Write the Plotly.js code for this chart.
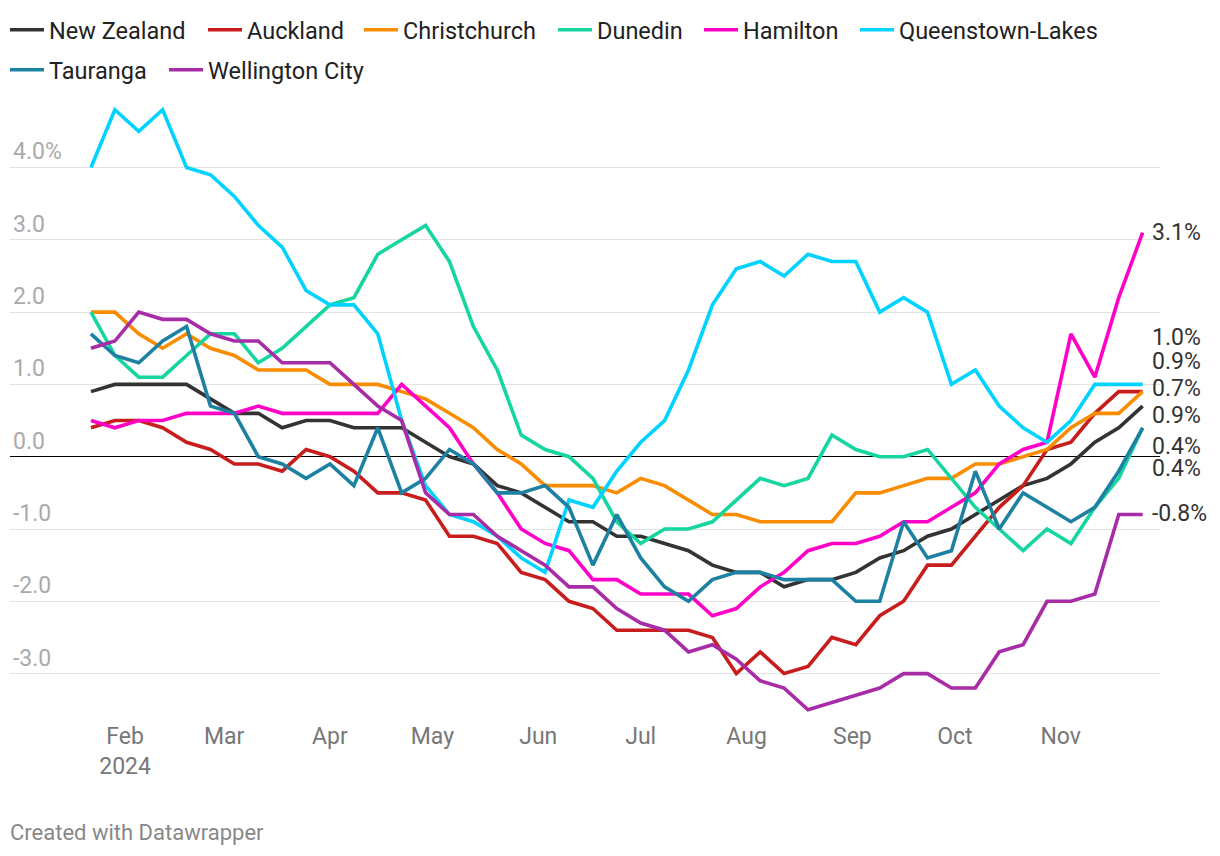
<!DOCTYPE html>
<html><head><meta charset="utf-8">
<script src="https://cdn.plot.ly/plotly-3.0.1.min.js"></script>
<style>html,body{margin:0;padding:0;background:#fff;} #chart{width:1220px;height:856px;}</style>
</head><body><div id="chart"></div>
<script>
const dates = ['2024-01-22','2024-01-29','2024-02-05','2024-02-12','2024-02-19','2024-02-26',
 '2024-03-04','2024-03-11','2024-03-18','2024-03-25','2024-04-01','2024-04-08','2024-04-15',
 '2024-04-22','2024-04-29','2024-05-06','2024-05-13','2024-05-20','2024-05-27','2024-06-03',
 '2024-06-10','2024-06-17','2024-06-24','2024-07-01','2024-07-08','2024-07-15','2024-07-22',
 '2024-07-29','2024-08-05','2024-08-12','2024-08-19','2024-08-26','2024-09-02','2024-09-09',
 '2024-09-16','2024-09-23','2024-09-30','2024-10-07','2024-10-14','2024-10-21','2024-10-28',
 '2024-11-04','2024-11-11','2024-11-18','2024-11-25'];

const newZealand = [0.9,1.0,1.0,1.0,1.0,0.8,0.6,0.6,0.4,0.5,0.5,0.4,0.4,0.4,0.2,0.0,-0.1,-0.4,-0.5,-0.7,-0.9,-0.9,-1.1,-1.1,-1.2,-1.3,-1.5,-1.6,-1.6,-1.8,-1.7,-1.7,-1.6,-1.4,-1.3,-1.1,-1.0,-0.8,-0.6,-0.4,-0.3,-0.1,0.2,0.4,0.7];
const auckland = [0.4,0.5,0.5,0.4,0.2,0.1,-0.1,-0.1,-0.2,0.1,0.0,-0.2,-0.5,-0.5,-0.6,-1.1,-1.1,-1.2,-1.6,-1.7,-2.0,-2.1,-2.4,-2.4,-2.4,-2.4,-2.5,-3.0,-2.7,-3.0,-2.9,-2.5,-2.6,-2.2,-2.0,-1.5,-1.5,-1.1,-0.7,-0.4,0.1,0.2,0.6,0.9,0.9];
const christchurch = [2.0,2.0,1.7,1.5,1.7,1.5,1.4,1.2,1.2,1.2,1.0,1.0,1.0,0.9,0.8,0.6,0.4,0.1,-0.1,-0.4,-0.4,-0.4,-0.5,-0.3,-0.4,-0.6,-0.8,-0.8,-0.9,-0.9,-0.9,-0.9,-0.5,-0.5,-0.4,-0.3,-0.3,-0.1,-0.1,0.0,0.1,0.4,0.6,0.6,0.9];
const dunedin = [2.0,1.4,1.1,1.1,1.4,1.7,1.7,1.3,1.5,1.8,2.1,2.2,2.8,3.0,3.2,2.7,1.8,1.2,0.3,0.1,0.0,-0.3,-0.9,-1.2,-1.0,-1.0,-0.9,-0.6,-0.3,-0.4,-0.3,0.3,0.1,0.0,0.0,0.1,-0.3,-0.7,-1.0,-1.3,-1.0,-1.2,-0.7,-0.3,0.4];
const hamilton = [0.5,0.4,0.5,0.5,0.6,0.6,0.6,0.7,0.6,0.6,0.6,0.6,0.6,1.0,0.7,0.4,-0.1,-0.5,-1.0,-1.2,-1.3,-1.7,-1.7,-1.9,-1.9,-1.9,-2.2,-2.1,-1.8,-1.6,-1.3,-1.2,-1.2,-1.1,-0.9,-0.9,-0.7,-0.5,-0.1,0.1,0.2,1.7,1.1,2.2,3.1];
const queenstownLakes = [4.0,4.8,4.5,4.8,4.0,3.9,3.6,3.2,2.9,2.3,2.1,2.1,1.7,0.5,-0.4,-0.8,-0.9,-1.1,-1.4,-1.6,-0.6,-0.7,-0.2,0.2,0.5,1.2,2.1,2.6,2.7,2.5,2.8,2.7,2.7,2.0,2.2,2.0,1.0,1.2,0.7,0.4,0.2,0.5,1.0,1.0,1.0];
const tauranga = [1.7,1.4,1.3,1.6,1.8,0.7,0.6,0.0,-0.1,-0.3,-0.1,-0.4,0.4,-0.5,-0.3,0.1,-0.1,-0.5,-0.5,-0.4,-0.7,-1.5,-0.8,-1.4,-1.8,-2.0,-1.7,-1.6,-1.6,-1.7,-1.7,-1.7,-2.0,-2.0,-0.9,-1.4,-1.3,-0.2,-1.0,-0.5,-0.7,-0.9,-0.7,-0.2,0.4];
const wellingtonCity = [1.5,1.6,2.0,1.9,1.9,1.7,1.6,1.6,1.3,1.3,1.3,1.0,0.7,0.5,-0.5,-0.8,-0.8,-1.1,-1.3,-1.5,-1.8,-1.8,-2.1,-2.3,-2.4,-2.7,-2.6,-2.8,-3.1,-3.2,-3.5,-3.4,-3.3,-3.2,-3.0,-3.0,-3.2,-3.2,-2.7,-2.6,-2.0,-2.0,-1.9,-0.8,-0.8];

const seriesNames = ['New Zealand','Auckland','Christchurch','Dunedin','Hamilton','Queenstown-Lakes','Tauranga','Wellington City'];
const seriesValues = [newZealand, auckland, christchurch, dunedin, hamilton, queenstownLakes, tauranga, wellingtonCity];

const yTickVals = [-3,-2,-1,0,1,2,3,4];
const yTickText = ['-3.0','-2.0','-1.0','0.0','1.0','2.0','3.0','4.0%'];
const xTickVals = ['2024-02-01','2024-03-01','2024-04-01','2024-05-01','2024-06-01','2024-07-01','2024-08-01','2024-09-01','2024-10-01','2024-11-01'];
const xTickText = ['Feb<br>2024','Mar','Apr','May','Jun','Jul','Aug','Sep','Oct','Nov'];

// ---- styles & positions ----
const colors = ['#333333','#c71e1d','#fa8c00','#15d5a0','#ff00c8','#00d3ff','#1d81a2','#a72ca6'];
const labelShift = [18, 30, -24, -41, 0, 47, -19, 1];          // px offsets of the end labels
const legendLeftPx = [5, 203, 359, 553, 699, 855, 5, 164];      // legend entry left edge (px)
const legendTopPx  = [8, 8, 8, 8, 8, 8, 48, 48];               // legend entry top edge (px)

const W = 1220, H = 856;
const M = {l: 10, r: 60, t: 100, b: 136, autoexpand: false};
const plotW = W - M.l - M.r, plotH = H - M.t - M.b;
const FONT = 'Roboto, "Noto Sans", sans-serif';

const traces = seriesNames.map((n, i) => ({
  type: 'scatter', mode: 'lines', name: n, x: dates, y: seriesValues[i],
  line: {color: colors[i], width: 3.6, shape: 'linear'},
  legend: i === 0 ? 'legend' : 'legend' + (i + 1),
  hoverinfo: 'skip'
}));

const annotations = seriesNames.map((n, i) => {
  const vals = seriesValues[i];
  const last = vals[vals.length - 1];
  return {
    x: dates[dates.length - 1], y: last, xref: 'x', yref: 'y',
    text: last.toFixed(1) + '%', showarrow: false,
    xanchor: 'left', yanchor: 'middle', xshift: 9, yshift: labelShift[i],
    borderpad: 0, borderwidth: 0,
    font: {family: FONT, size: 23, color: '#333333'}
  };
});
annotations.push({
  xref: 'paper', yref: 'paper', x: 0, y: (H - M.b - 832) / plotH,
  xanchor: 'left', yanchor: 'middle', xshift: -2,
  text: 'Created with Datawrapper', showarrow: false,
  font: {family: FONT, size: 22, color: '#888888'}
});

const layout = {
  width: W, height: H,
  margin: M,
  paper_bgcolor: '#ffffff', plot_bgcolor: '#ffffff',
  font: {family: FONT, color: '#333'},
  showlegend: true,
  xaxis: {
    type: 'date', range: ['2023-12-29 07:00', '2024-11-30 02:00'],
    tickmode: 'array', tickvals: xTickVals, ticktext: xTickText,
    showgrid: false, zeroline: false, showline: false, ticks: '',
    tickfont: {family: FONT, size: 23, color: '#777777'}
  },
  yaxis: {
    range: [-3.642, 4.934],
    tickmode: 'array', tickvals: yTickVals, ticktext: yTickText,
    ticklabelposition: 'inside top',
    showgrid: true, gridcolor: '#e3e3e3', gridwidth: 1,
    zeroline: true, zerolinecolor: '#000000', zerolinewidth: 1.5,
    showline: false, ticks: '',
    tickfont: {family: FONT, size: 23, color: '#aaaaaa'}
  },
  annotations: annotations
};

seriesNames.forEach((n, i) => {
  const key = i === 0 ? 'legend' : 'legend' + (i + 1);
  layout[key] = {
    orientation: 'h', xref: 'paper', yref: 'paper',
    x: (legendLeftPx[i] - M.l) / plotW, xanchor: 'left',
    y: (H - M.b - legendTopPx[i]) / plotH, yanchor: 'top',
    font: {family: FONT, size: 23.5, color: '#222222'},
    bgcolor: 'rgba(0,0,0,0)', itemwidth: 34
  };
});

Plotly.newPlot('chart', traces, layout, {displayModeBar: false, staticPlot: true});
</script>
</body></html>
